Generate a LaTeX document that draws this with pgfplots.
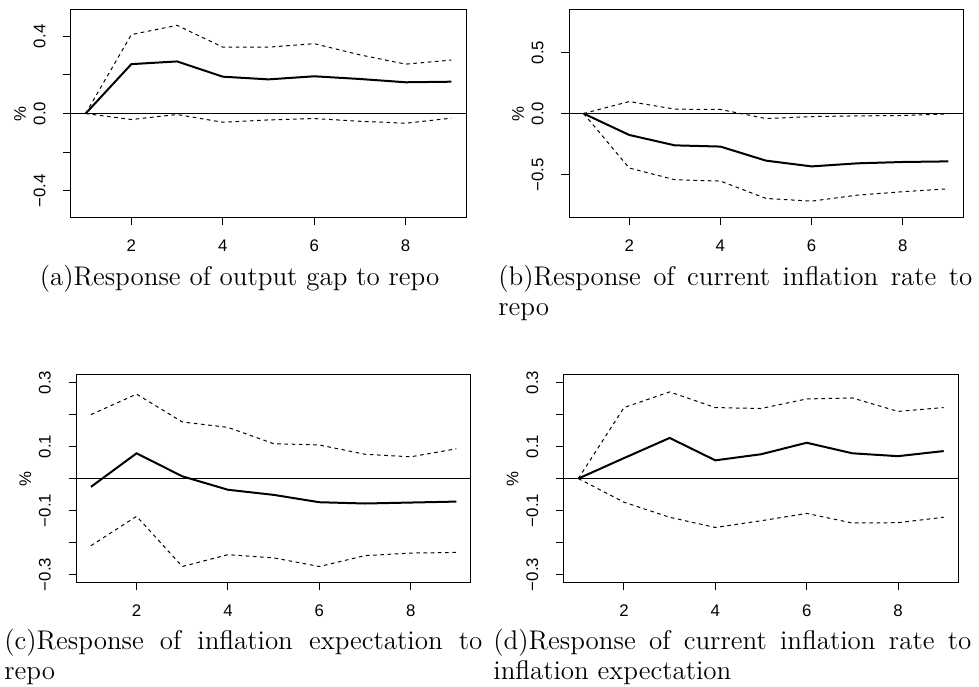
\documentclass[border=0pt]{standalone}
\usepackage{fontspec}
\usepackage{pgfplots}
\pgfplotsset{compat=1.18}
\newfontfamily\helv{Liberation Sans}
\newcommand\tickfont{\helv\fontsize{8.4}{10}\selectfont}
\newcommand\capfont{\fontsize{13.5}{15}\selectfont}

\pgfplotsset{
  irf/.style={
    scale only axis,
    height=104.25pt,
    xmin=0.68, xmax=9.32,
    xtick={2,4,6,8},
    xticklabels={2,4,6,8},
    tick align=outside,
    xtick pos=bottom, ytick pos=left,
    major tick length=3.8pt,
    tick style={black, line width=0.5pt},
    axis line style={line width=0.5pt},
    tick label style={font=\tickfont},
    yticklabel style={xshift=-9pt, rotate=90, anchor=base},
    xticklabel style={yshift=-12.85pt, anchor=base},
    ylabel={\%},
    every axis y label/.style={at={(axis description cs:0,0.5)}, xshift=-25.5pt, rotate=90, anchor=center, font=\tickfont},
  },
  mid/.style={black, line width=1pt},
  band/.style={black, line width=0.5pt, dash pattern=on 1.8pt off 1.8pt},
  zero/.style={black, line width=0.6pt},
}

\begin{document}
\begin{tikzpicture}
\useasboundingbox (0,0) rectangle (489.5pt,-343pt);

% (a) output gap to repo
\begin{axis}[irf, at={(35.5pt,-4.65pt)}, anchor=north west, width=197.5pt,
  ymin=-0.54, ymax=0.54,
  ytick={-0.4,-0.2,0,0.2,0.4},
  yticklabels={−0.4,,0.0,,0.4}]
\addplot[zero] coordinates {(0.68,0) (9.32,0)};
\addplot[mid] coordinates {(1,0) (2,0.256) (3,0.270) (4,0.191) (5,0.177) (6,0.193) (7,0.179) (8,0.162) (9,0.165)};
\addplot[band] coordinates {(1,0) (2,0.409) (3,0.457) (4,0.344) (5,0.344) (6,0.362) (7,0.304) (8,0.256) (9,0.277)};
\addplot[band] coordinates {(1,0) (2,-0.031) (3,-0.005) (4,-0.045) (5,-0.033) (6,-0.026) (7,-0.040) (8,-0.050) (9,-0.024)};
\end{axis}

% (b) current inflation to repo
\begin{axis}[irf, at={(284.5pt,-4.65pt)}, anchor=north west, width=197pt,
  ymin=-0.852, ymax=0.852,
  ytick={-0.5,0,0.5},
  yticklabels={−0.5,0.0,0.5}]
\addplot[zero] coordinates {(0.68,0) (9.32,0)};
\addplot[mid] coordinates {(1,0) (2,-0.175) (3,-0.260) (4,-0.270) (5,-0.385) (6,-0.432) (7,-0.407) (8,-0.396) (9,-0.391)};
\addplot[band] coordinates {(1,0) (2,0.098) (3,0.036) (4,0.033) (5,-0.041) (6,-0.025) (7,-0.019) (8,-0.016) (9,-0.003)};
\addplot[band] coordinates {(1,0) (2,-0.445) (3,-0.541) (4,-0.552) (5,-0.694) (6,-0.716) (7,-0.667) (8,-0.639) (9,-0.615)};
\end{axis}

% (c) inflation expectation to repo
\begin{axis}[irf, at={(38.15pt,-187.15pt)}, anchor=north west, width=197.35pt,
  ymin=-0.326, ymax=0.326,
  ytick={-0.3,-0.2,-0.1,0,0.1,0.2,0.3},
  yticklabels={−0.3,,−0.1,,0.1,,0.3}]
\addplot[zero] coordinates {(0.68,0) (9.32,0)};
\addplot[mid] coordinates {(1,-0.026) (2,0.079) (3,0.007) (4,-0.035) (5,-0.051) (6,-0.074) (7,-0.078) (8,-0.075) (9,-0.072)};
\addplot[band] coordinates {(1,0.200) (2,0.264) (3,0.177) (4,0.160) (5,0.109) (6,0.105) (7,0.076) (8,0.068) (9,0.093)};
\addplot[band] coordinates {(1,-0.210) (2,-0.118) (3,-0.275) (4,-0.238) (5,-0.248) (6,-0.275) (7,-0.241) (8,-0.233) (9,-0.231)};
\end{axis}

% (d) current inflation to inflation expectation
\begin{axis}[irf, at={(281.85pt,-187.15pt)}, anchor=north west, width=197.3pt,
  ymin=-0.326, ymax=0.326,
  ytick={-0.3,-0.2,-0.1,0,0.1,0.2,0.3},
  yticklabels={−0.3,,−0.1,,0.1,,0.3}]
\addplot[zero] coordinates {(0.68,0) (9.32,0)};
\addplot[mid] coordinates {(1,0) (2,0.064) (3,0.127) (4,0.057) (5,0.076) (6,0.112) (7,0.079) (8,0.070) (9,0.086)};
\addplot[band] coordinates {(1,0) (2,0.222) (3,0.271) (4,0.222) (5,0.219) (6,0.249) (7,0.252) (8,0.210) (9,0.222)};
\addplot[band] coordinates {(1,0) (2,-0.074) (3,-0.121) (4,-0.153) (5,-0.132) (6,-0.109) (7,-0.139) (8,-0.138) (9,-0.121)};
\end{axis}

% captions
\node[anchor=base west, inner sep=0pt, font=\capfont] at (19.7pt,-142.5pt) {(a)Response of output gap to repo};
\node[anchor=base west, inner sep=0pt, text width=237pt, align=justify, font=\capfont] at (249pt,-142.5pt)
  {(b)Response of current inflation rate to\linebreak repo};
\node[anchor=base west, inner sep=0pt, text width=239pt, align=justify, font=\capfont] at (2pt,-324.5pt)
  {(c)Response of inflation expectation to\linebreak repo};
\node[anchor=base west, inner sep=0pt, text width=239pt, align=justify, font=\capfont] at (246.5pt,-324.5pt)
  {(d)Response of current inflation rate to\linebreak inflation expectation};
\end{tikzpicture}
\end{document}
